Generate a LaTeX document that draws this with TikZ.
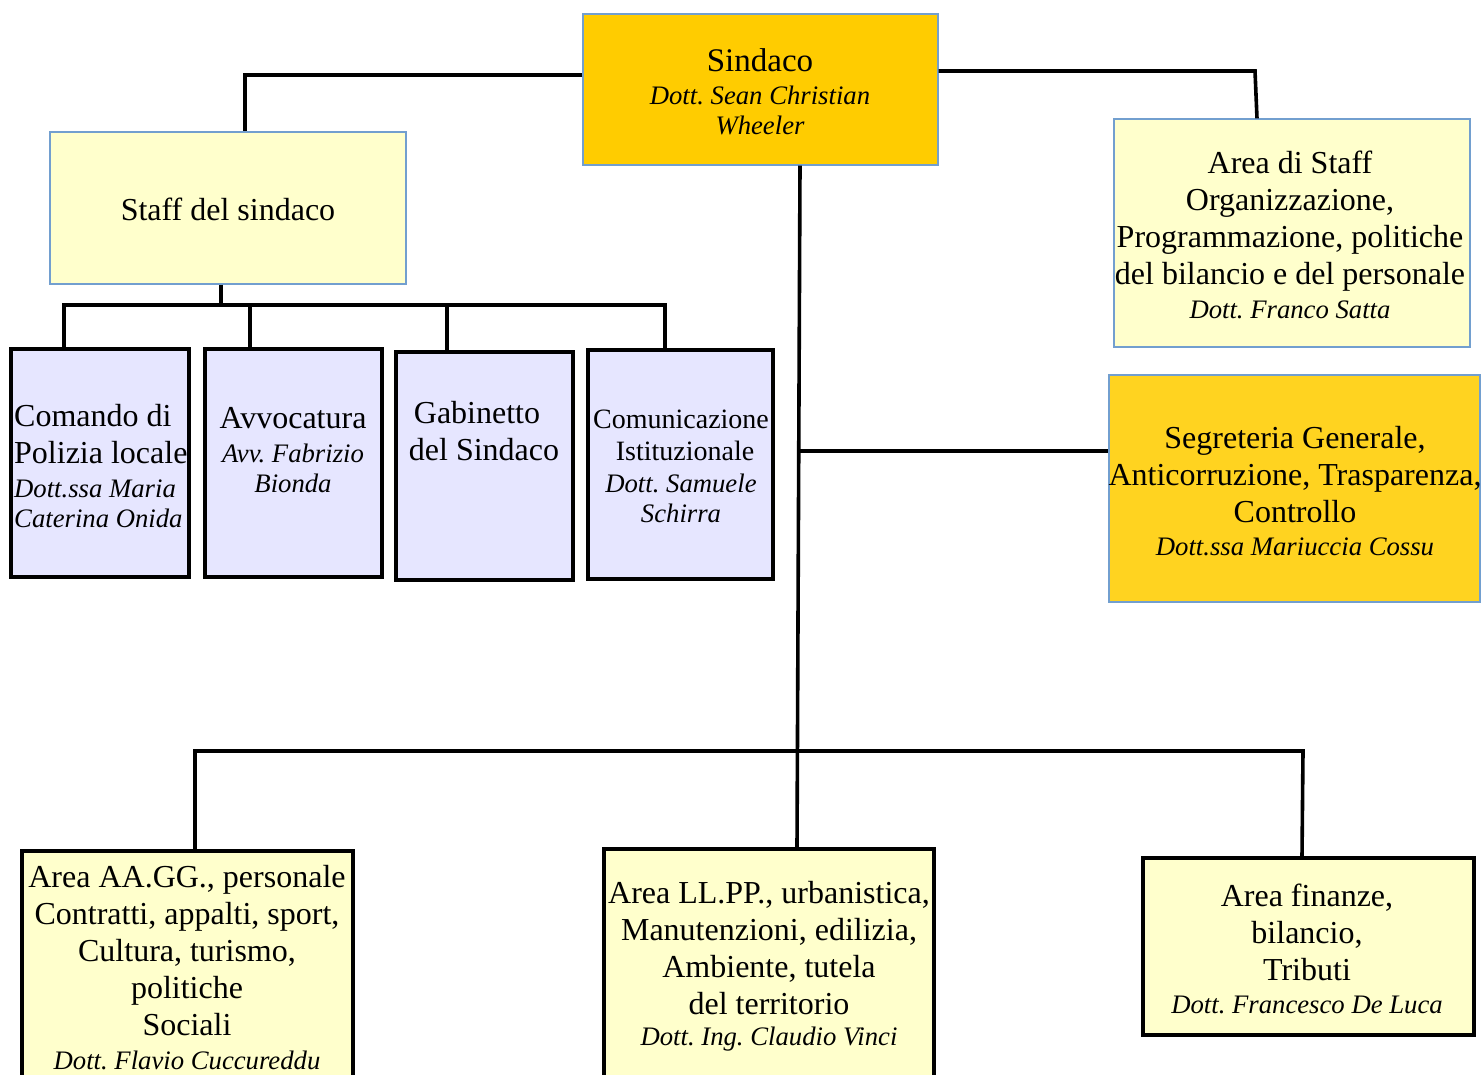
\documentclass[tikz,border=0pt]{standalone}
\usepackage{fontspec}
\setmainfont{Liberation Serif}
\definecolor{gold}{HTML}{FFCC00}
\definecolor{gold2}{HTML}{FFD320}
\definecolor{lyellow}{HTML}{FFFFCC}
\definecolor{lav}{HTML}{E6E6FF}
\definecolor{bblue}{HTML}{729FCF}
\newcommand\nmfont{\fontsize{26.7}{30}\selectfont\itshape}
\tikzset{
  thinbox/.style={draw=bblue, line width=1.2pt, rectangle, inner sep=0pt},
  thickbox/.style={draw=black, line width=3.5pt, rectangle, inner sep=0pt},
  conn/.style={draw=black, line width=3.6pt},
  txt/.style={align=center, inner sep=0pt, font=\fontsize{32}{37}\selectfont\frenchspacing},
}
\begin{document}
\begin{tikzpicture}[x=1pt,y=-1pt]
\useasboundingbox (0,0) rectangle (1483,1075);
% boxes
\node[thinbox, fill=gold, minimum width=355pt, minimum height=151pt] (sindaco) at (760.5,89.5) {};
\node[thinbox, fill=lyellow, minimum width=356pt, minimum height=152pt] (staff) at (228,208) {};
\node[thinbox, fill=lyellow, minimum width=356pt, minimum height=228pt] (areastaff) at (1292,233) {};
\node[thinbox, fill=gold2, minimum width=371pt, minimum height=227pt] (segr) at (1294.5,488.5) {};
\node[thickbox, fill=lav, minimum width=178pt, minimum height=228pt] (comando) at (100,463) {};
\node[thickbox, fill=lav, minimum width=177pt, minimum height=228pt] (avv) at (293.5,463) {};
\node[thickbox, fill=lav, minimum width=177pt, minimum height=228pt] (gab) at (484.5,466) {};
\node[thickbox, fill=lav, minimum width=185pt, minimum height=229pt] (com) at (680.5,464.5) {};
\node[thickbox, fill=lyellow, minimum width=331pt, minimum height=250pt] (aagg) at (187.5,976) {};
\node[thickbox, fill=lyellow, minimum width=330pt, minimum height=250pt] (llpp) at (769,974) {};
\node[thickbox, fill=lyellow, minimum width=331pt, minimum height=177pt] (fin) at (1308.5,946.5) {};
% texts
\node[txt] (t-sindaco) at (760,91.5) {\fontsize{33}{36}\selectfont Sindaco\\[-4pt] \nmfont Dott. Sean Christian\\[-7pt] \nmfont Wheeler};
\node[txt] (t-staff) at (228,209) {Staff del sindaco};
\node[txt] (t-areastaff) at (1290,235) {Area di Staff\\ Organizzazione,\\ Programmazione, politiche\\ del bilancio e del personale\\[-3pt] \nmfont Dott. Franco Satta};
\node[txt] (t-segr) at (1295,491) {Segreteria Generale,\\ Anticorruzione, Trasparenza,\\ Controllo\\[-4pt] \nmfont Dott.ssa Mariuccia Cossu};
\node[txt, align=left, anchor=west] (t-comando) at (14,466) {Comando di\\ Polizia locale\\[-3pt] \nmfont Dott.ssa Maria\\[-7pt] \nmfont Caterina Onida};
\node[txt] (t-avv) at (293,450) {Avvocatura\\[-3pt] \nmfont Avv. Fabrizio\\[-7pt] \nmfont Bionda};
\node[txt] (t-gab) at (484,431) {Gabinetto\hspace*{14pt}\\ del Sindaco};
\node[txt, font=\fontsize{28}{32}\selectfont\frenchspacing] (t-com) at (681,466.5) {Comunicazione\\ \hspace*{8pt}Istituzionale\\ \nmfont Dott. Samuele\\[-2pt] \nmfont Schirra};
\node[txt] (t-aagg) at (187,968) {Area AA.GG., personale\\ Contratti, appalti, sport,\\ Cultura, turismo,\\ politiche\\ Sociali\\[-3pt] \nmfont Dott. Flavio Cuccureddu};
\node[txt] (t-llpp) at (769,966) {Area LL.PP., urbanistica,\\ Manutenzioni, edilizia,\\ Ambiente, tutela\\ del territorio\\[-6pt] \nmfont Dott. Ing. Claudio Vinci};
\node[txt] (t-fin) at (1307,949) {Area finanze,\\ bilancio,\\ Tributi\\[-4pt] \nmfont Dott. Francesco De Luca};
% connectors
\coordinate (busL) at (195,751);
\coordinate (busR) at (1303,751);
\draw[conn] ([yshift=14.5pt]sindaco.west) -| ([xshift=17pt]staff.north);
\draw[conn] ([yshift=18.5pt]sindaco.east) -- (1255,71) -- ([xshift=-35pt]areastaff.north);
\draw[conn] ([xshift=39.5pt]sindaco.south) -- ([xshift=28pt]llpp.north);
\draw[conn] (800,451) -- (segr.west |- 800,451);
\draw[conn, line cap=rect] (busL) -- (busR);
\draw[conn] (busL) -- (aagg.north -| busL);
\draw[conn] (busR) -- ([xshift=-6.5pt]fin.north);
\coordinate (sbus) at (221,305);
\draw[conn] ([xshift=-7pt]staff.south) -- (sbus);
\draw[conn, line cap=rect] (comando.north -| 64,305) -- (64,305) -- (665,305) -- (com.north -| 665,305);
\draw[conn] (250,305) -- (avv.north -| 250,305);
\draw[conn] (447,305) -- (gab.north -| 447,305);
\end{tikzpicture}
\end{document}
